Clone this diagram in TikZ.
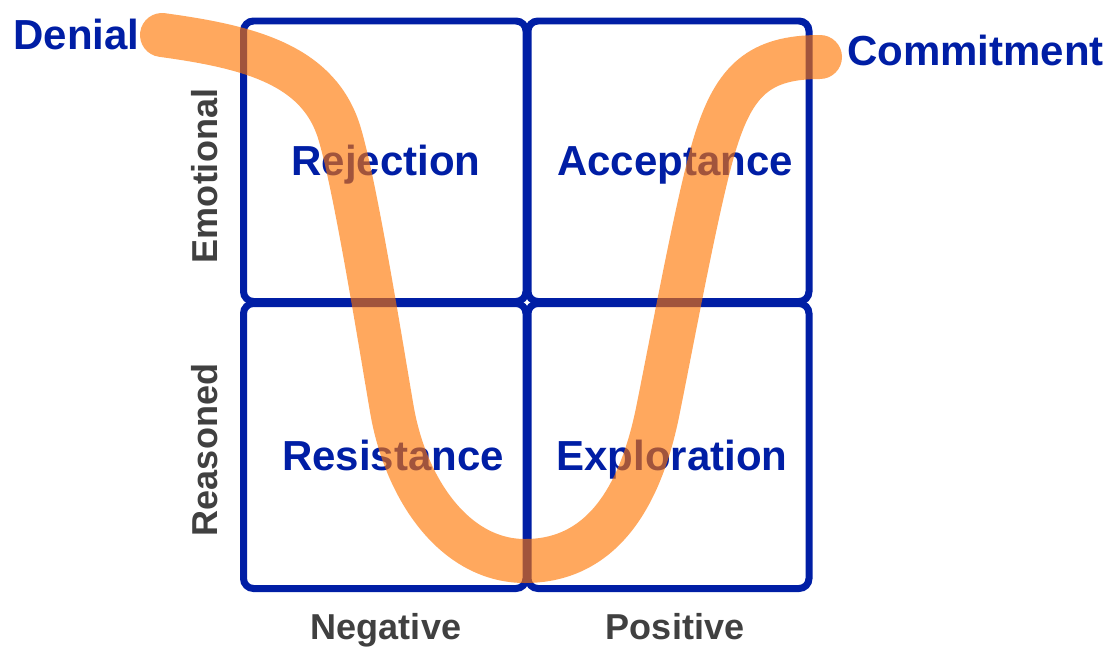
\documentclass[tikz,border=0pt]{standalone}
\usepackage{fontspec}
\setmainfont{Liberation Sans}

\definecolor{quadblue}{RGB}{0,30,165}
\definecolor{axisgray}{RGB}{64,64,64}
\definecolor{pathorange}{RGB}{255,117,0}

\begin{document}
\begin{tikzpicture}[x=0.02cm, y=-0.02cm,
    quadrant/.style={draw=quadblue, line width=0.14cm, rounded corners=0.2cm},
    stagelabel/.style={text=quadblue, font=\bfseries\fontsize{23.9}{28}\selectfont, inner sep=0pt, anchor=base},
    axislabel/.style={text=axisgray, font=\bfseries\fontsize{20.5}{24}\selectfont, inner sep=0pt, anchor=base},
    journey/.style={draw=pathorange, draw opacity=0.63, line width=0.88cm, line cap=round}]
    \useasboundingbox (0, 0) rectangle (1115, 649);

    % Quadrants
    \draw[quadrant] (243.5, 21) rectangle (526, 301.5);
    \draw[quadrant] (528, 21) rectangle (809, 301.5);
    \draw[quadrant] (243.5, 303.5) rectangle (526, 588.5);
    \draw[quadrant] (528, 303.5) rectangle (809, 588.5);

    % Stages
    \node[stagelabel] (rejection) at (386, 175) {Rejection};
    \node[stagelabel] (acceptance) at (675, 175) {Acceptance};
    \node[stagelabel] (resistance) at (393, 470) {Resistance};
    \node[stagelabel] (exploration) at (672, 470) {Exploration};

    % End points
    \node[stagelabel, anchor=base west] (denial) at (13, 49) {Denial};
    \node[stagelabel, anchor=base west] (commitment) at (847, 65) {Commitment};

    % Axes
    \node[axislabel] (negative) at (386, 639) {Negative};
    \node[axislabel] (positive) at (675, 639) {Positive};
    \node[axislabel, rotate=90] (emotional) at (217, 176) {Emotional};
    \node[axislabel, rotate=90] (reasoned) at (217, 450) {Reasoned};

    % Change curve
    \draw[journey] (162, 35) .. controls (250, 47) and (320, 65) .. (340, 135)
        .. controls (356, 190) and (380, 340) .. (392, 410)
        .. controls (406, 490) and (455, 561) .. (525, 561)
        .. controls (600, 561) and (640, 500) .. (658, 410)
        .. controls (676, 320) and (700, 190) .. (716, 140)
        .. controls (735, 80) and (760, 57) .. (820, 57);
\end{tikzpicture}
\end{document}
